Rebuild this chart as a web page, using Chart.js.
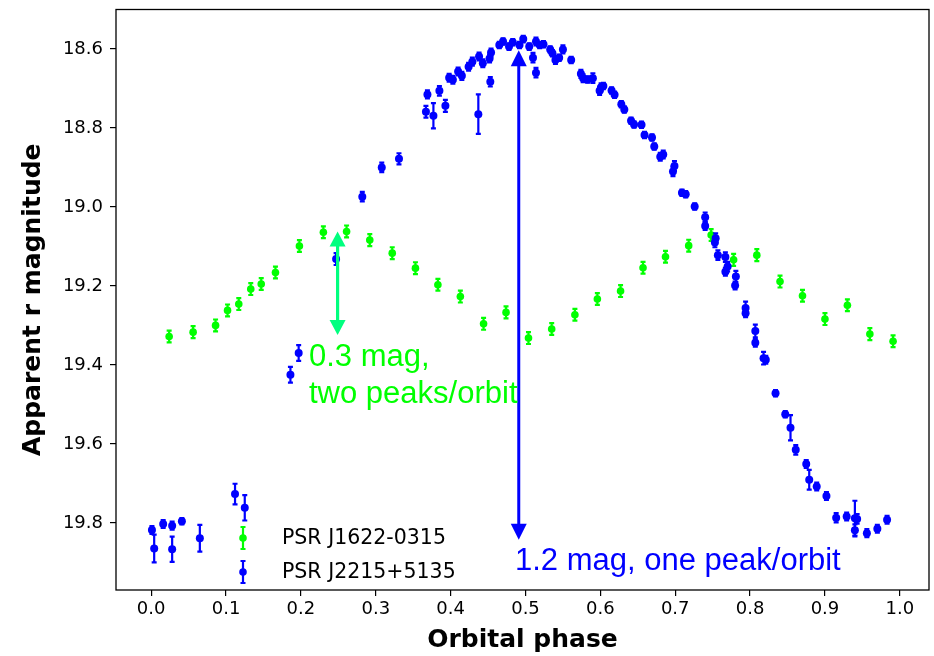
<!DOCTYPE html>
<html>
<head>
<meta charset="utf-8">
<title>Light curves of two redback pulsars</title>
<script src="https://cdn.jsdelivr.net/npm/chart.js@4/dist/chart.umd.min.js"></script>
<style>
  html, body { margin: 0; padding: 0; background: #ffffff; }
  #wrap { width: 934px; height: 656px; position: relative; }
</style>
</head>
<body>
<div id="wrap"><canvas id="c" width="934" height="656"></canvas></div>
<script>
// ---- Data: orbital phase vs. apparent r magnitude ----
const seriesNames = ['PSR J1622-0315', 'PSR J2215+5135'];

// PSR J1622-0315 (green)
const greenPhase = [0.024, 0.056, 0.086, 0.102, 0.117, 0.133, 0.147, 0.166, 0.198, 0.230, 0.261,
                    0.292, 0.322, 0.353, 0.383, 0.413, 0.444, 0.474, 0.504, 0.535, 0.566, 0.596,
                    0.627, 0.657, 0.687, 0.718, 0.748, 0.778, 0.809, 0.840, 0.870, 0.900, 0.930,
                    0.960, 0.991];
const greenMag = [19.328, 19.317, 19.300, 19.262, 19.246, 19.208, 19.195, 19.166, 19.099, 19.064, 19.062,
                  19.084, 19.117, 19.155, 19.197, 19.227, 19.296, 19.267, 19.332, 19.309, 19.273, 19.233,
                  19.213, 19.154, 19.126, 19.098, 19.071, 19.134, 19.122, 19.189, 19.225, 19.284, 19.249,
                  19.322, 19.340];
const greenErr = [0.015, 0.015, 0.015, 0.015, 0.015, 0.015, 0.015, 0.015, 0.015, 0.015, 0.015,
                  0.015, 0.015, 0.015, 0.015, 0.015, 0.015, 0.015, 0.015, 0.015, 0.015, 0.015,
                  0.015, 0.015, 0.015, 0.015, 0.015, 0.015, 0.015, 0.015, 0.015, 0.015, 0.015,
                  0.015, 0.015];

// PSR J2215+5135 (blue)
const bluePhase = [0.001, 0.004, 0.016, 0.028, 0.028, 0.041, 0.065, 0.112, 0.125, 0.186, 0.197,
                   0.247, 0.282, 0.308, 0.331, 0.367, 0.369, 0.377, 0.385, 0.393, 0.398, 0.403,
                   0.410, 0.415, 0.424, 0.429, 0.437, 0.438, 0.443, 0.452, 0.453, 0.454, 0.465,
                   0.470, 0.478, 0.483, 0.492, 0.497, 0.505, 0.510, 0.514, 0.514, 0.519, 0.524,
                   0.533, 0.536, 0.540, 0.545, 0.550, 0.561, 0.574, 0.577, 0.583, 0.590, 0.599,
                   0.601, 0.604, 0.615, 0.619, 0.628, 0.632, 0.641, 0.645, 0.655, 0.659, 0.669,
                   0.672, 0.680, 0.684, 0.697, 0.699, 0.709, 0.714, 0.726, 0.740, 0.740, 0.753,
                   0.754, 0.757, 0.767, 0.767, 0.770, 0.780, 0.781, 0.794, 0.794, 0.807, 0.807,
                   0.818, 0.821, 0.834, 0.847, 0.854, 0.861, 0.875, 0.879, 0.889, 0.902, 0.915,
                   0.929, 0.940, 0.943, 0.940, 0.956, 0.970, 0.983];
const blueMag = [19.818, 19.865, 19.803, 19.807, 19.867, 19.796, 19.839, 19.727, 19.762, 19.425, 19.370,
                 19.132, 18.974, 18.900, 18.878, 18.759, 18.715, 18.769, 18.706, 18.744, 18.673, 18.678,
                 18.657, 18.668, 18.645, 18.632, 18.765, 18.619, 18.636, 18.624, 18.683, 18.609, 18.590,
                 18.581, 18.594, 18.583, 18.590, 18.575, 18.594, 18.622, 18.581, 18.660, 18.590, 18.588,
                 18.601, 18.611, 18.628, 18.622, 18.601, 18.628, 18.663, 18.674, 18.677, 18.674, 18.706,
                 18.697, 18.694, 18.705, 18.716, 18.740, 18.753, 18.782, 18.791, 18.792, 18.818, 18.824,
                 18.847, 18.873, 18.867, 18.910, 18.896, 18.964, 18.968, 18.999, 19.026, 19.048, 19.090,
                 19.079, 19.122, 19.127, 19.164, 19.151, 19.199, 19.176, 19.256, 19.269, 19.314, 19.344,
                 19.383, 19.387, 19.472, 19.525, 19.559, 19.615, 19.651, 19.691, 19.708, 19.732, 19.787,
                 19.784, 19.788, 19.790, 19.819, 19.826, 19.815, 19.792];
const blueErr = [0.010, 0.035, 0.010, 0.010, 0.032, 0.008, 0.034, 0.026, 0.032, 0.020, 0.020,
                 0.015, 0.012, 0.012, 0.014, 0.015, 0.010, 0.032, 0.012, 0.015, 0.010, 0.010,
                 0.010, 0.010, 0.010, 0.010, 0.050, 0.010, 0.010, 0.010, 0.012, 0.010, 0.008,
                 0.008, 0.008, 0.008, 0.008, 0.008, 0.008, 0.012, 0.010, 0.012, 0.008, 0.008,
                 0.008, 0.008, 0.010, 0.008, 0.010, 0.008, 0.010, 0.010, 0.008, 0.012, 0.010,
                 0.010, 0.008, 0.008, 0.008, 0.008, 0.008, 0.008, 0.008, 0.008, 0.008, 0.008,
                 0.008, 0.010, 0.010, 0.012, 0.012, 0.008, 0.008, 0.008, 0.012, 0.010, 0.012,
                 0.012, 0.012, 0.012, 0.010, 0.012, 0.010, 0.014, 0.016, 0.010, 0.016, 0.010,
                 0.016, 0.010, 0.008, 0.008, 0.032, 0.012, 0.010, 0.025, 0.010, 0.010, 0.012,
                 0.010, 0.044, 0.012, 0.015, 0.010, 0.010, 0.010];

// Axis ticks
const xTicks = [0.0, 0.1, 0.2, 0.3, 0.4, 0.5, 0.6, 0.7, 0.8, 0.9, 1.0];
const yTicks = [18.6, 18.8, 19.0, 19.2, 19.4, 19.6, 19.8];

// Amplitude markers: [phase, bright end, faint end]
const greenSpan = [0.249, 19.062, 19.324];
const blueSpan = [0.491, 18.603, 19.843];

const GREEN = '#00ff00';
const BLUE = '#0000ff';
const ARROW_GREEN = '#00ff7f';

function points(xs, ys) { return xs.map((v, i) => ({ x: v, y: ys[i] })); }

// Vertical error bars with small caps, drawn just before each dataset's markers
const errorBars = {
  id: 'errorBars',
  beforeDatasetDraw(chart, args) {
    const ds = chart.data.datasets[args.index];
    if (!ds.errors) return;
    const { ctx } = chart;
    const xs = chart.scales.x, ys = chart.scales.y;
    ctx.save();
    ctx.strokeStyle = ds.backgroundColor;
    ctx.lineWidth = 2.2;
    ds.data.forEach((p, i) => {
      const e = ds.errors[i];
      const px = xs.getPixelForValue(p.x);
      const y1 = ys.getPixelForValue(p.y - e);
      const y2 = ys.getPixelForValue(p.y + e);
      ctx.beginPath();
      ctx.moveTo(px, y1); ctx.lineTo(px, y2);
      ctx.moveTo(px - 2.5, y1); ctx.lineTo(px + 2.5, y1);
      ctx.moveTo(px - 2.5, y2); ctx.lineTo(px + 2.5, y2);
      ctx.stroke();
    });
    ctx.restore();
  }
};

function doubleArrow(ctx, x, yTop, yBot, color, lw, headLen, headHalf) {
  ctx.save();
  ctx.strokeStyle = color;
  ctx.fillStyle = color;
  ctx.lineWidth = lw;
  ctx.beginPath();
  ctx.moveTo(x, yTop + headLen - 1);
  ctx.lineTo(x, yBot - headLen + 1);
  ctx.stroke();
  ctx.beginPath();
  ctx.moveTo(x, yTop);
  ctx.lineTo(x - headHalf, yTop + headLen);
  ctx.lineTo(x + headHalf, yTop + headLen);
  ctx.closePath();
  ctx.fill();
  ctx.beginPath();
  ctx.moveTo(x, yBot);
  ctx.lineTo(x - headHalf, yBot - headLen);
  ctx.lineTo(x + headHalf, yBot - headLen);
  ctx.closePath();
  ctx.fill();
  ctx.restore();
}

// Frame, amplitude arrows, their captions and the legend
const decorations = {
  id: 'decorations',
  afterDatasetsDraw(chart) {
    const { ctx, chartArea: a } = chart;
    const xs = chart.scales.x, ys = chart.scales.y;

    // amplitude arrows
    doubleArrow(ctx, xs.getPixelForValue(greenSpan[0]), ys.getPixelForValue(greenSpan[1]),
                ys.getPixelForValue(greenSpan[2]), ARROW_GREEN, 3.2, 15, 8);
    doubleArrow(ctx, xs.getPixelForValue(blueSpan[0]), ys.getPixelForValue(blueSpan[1]),
                ys.getPixelForValue(blueSpan[2]), BLUE, 3, 16, 8);

    // captions
    ctx.save();
    ctx.font = '31px "Liberation Sans", Arial, sans-serif';
    ctx.textAlign = 'left';
    ctx.textBaseline = 'alphabetic';
    ctx.fillStyle = GREEN;
    ctx.fillText('0.3 mag,', 309, 366);
    ctx.fillText('two peaks/orbit', 309, 403);
    ctx.fillStyle = BLUE;
    ctx.fillText('1.2 mag, one peak/orbit', 515, 570);
    ctx.restore();

    // legend
    ctx.save();
    const entries = [[seriesNames[0], GREEN, 538], [seriesNames[1], BLUE, 572]];
    entries.forEach(([name, color, cy]) => {
      const mx = 243;
      ctx.strokeStyle = color;
      ctx.fillStyle = color;
      ctx.lineWidth = 2.2;
      ctx.beginPath();
      ctx.moveTo(mx, cy - 11); ctx.lineTo(mx, cy + 11);
      ctx.moveTo(mx - 2.5, cy - 11); ctx.lineTo(mx + 2.5, cy - 11);
      ctx.moveTo(mx - 2.5, cy + 11); ctx.lineTo(mx + 2.5, cy + 11);
      ctx.stroke();
      ctx.beginPath();
      ctx.arc(mx, cy, 3.8, 0, Math.PI * 2);
      ctx.fill();
      ctx.fillStyle = '#000000';
      ctx.font = '20.5px "DejaVu Sans", sans-serif';
      ctx.textAlign = 'left';
      ctx.textBaseline = 'middle';
      ctx.fillText(name, 282, cy + 1);
    });
    ctx.restore();

    // axes frame
    ctx.save();
    ctx.strokeStyle = '#000000';
    ctx.lineWidth = 1.3;
    ctx.strokeRect(a.left, a.top, a.right - a.left, a.bottom - a.top);
    ctx.restore();
  }
};

new Chart(document.getElementById('c'), {
  type: 'scatter',
  data: {
    datasets: [
      {
        label: seriesNames[1],
        data: points(bluePhase, blueMag),
        errors: blueErr,
        backgroundColor: BLUE,
        borderWidth: 0,
        pointRadius: 4,
        order: 0
      },
      {
        label: seriesNames[0],
        data: points(greenPhase, greenMag),
        errors: greenErr,
        backgroundColor: GREEN,
        borderWidth: 0,
        pointRadius: 3.8,
        order: 1
      }
    ]
  },
  options: {
    responsive: false,
    animation: false,
    devicePixelRatio: 1,
    layout: { padding: { top: 9.5, right: 5, bottom: 0, left: 0 } },
    plugins: { legend: { display: false }, tooltip: { enabled: false } },
    scales: {
      x: {
        type: 'linear',
        min: -0.047,
        max: 1.039,
        afterFit(scale) { scale.height = 66; scale.paddingLeft = 0; scale.paddingRight = 0; },
        afterBuildTicks(scale) { scale.ticks = xTicks.map(v => ({ value: v })); },
        ticks: {
          color: '#000000',
          font: { family: '"DejaVu Sans", sans-serif', size: 18 },
          padding: 3,
          maxRotation: 0,
          callback: v => Number(v).toFixed(1)
        },
        grid: { display: true, drawOnChartArea: false, drawTicks: true, tickLength: 6, color: '#000000', lineWidth: 1.2 },
        border: { display: false },
        title: {
          display: true,
          text: 'Orbital phase',
          color: '#000000',
          font: { family: '"DejaVu Sans", sans-serif', size: 25, weight: 'bold' },
          padding: { top: 0, bottom: 1 }
        }
      },
      y: {
        type: 'linear',
        reverse: true,
        min: 18.5,
        max: 19.97,
        afterFit(scale) { scale.width = 116; scale.paddingTop = 0; scale.paddingBottom = 0; },
        afterBuildTicks(scale) { scale.ticks = yTicks.map(v => ({ value: v })); },
        ticks: {
          color: '#000000',
          font: { family: '"DejaVu Sans", sans-serif', size: 18 },
          padding: 7,
          callback: v => Number(v).toFixed(1)
        },
        grid: { display: true, drawOnChartArea: false, drawTicks: true, tickLength: 6, color: '#000000', lineWidth: 1.2 },
        border: { display: false },
        title: {
          display: true,
          text: 'Apparent r magnitude',
          color: '#000000',
          font: { family: '"DejaVu Sans", sans-serif', size: 25, weight: 'bold' },
          padding: { top: 18, bottom: 0 }
        }
      }
    }
  },
  plugins: [errorBars, decorations]
});
</script>
</body>
</html>
